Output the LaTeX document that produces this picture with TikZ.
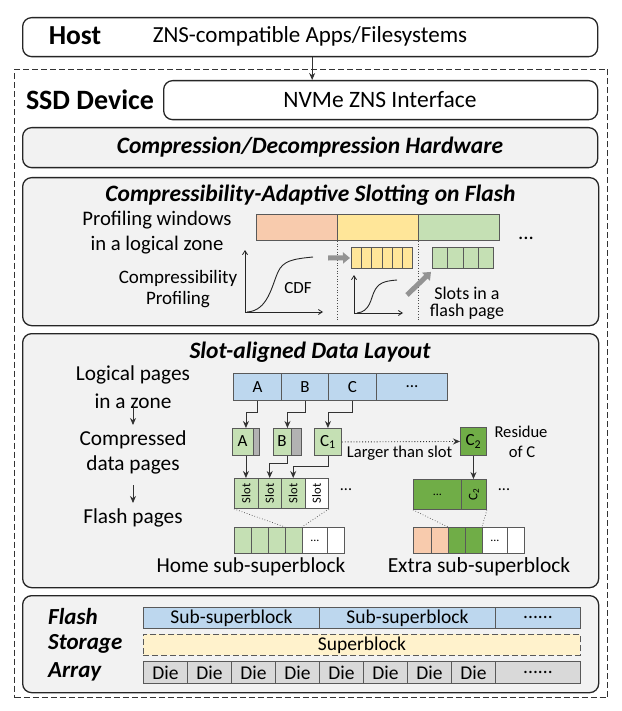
\documentclass[tikz,border=0pt]{standalone}
\usepackage{fontspec}
\setmainfont{Carlito}
\usetikzlibrary{arrows.meta}
\definecolor{peach}{HTML}{F8CBAD}
\definecolor{yel}{HTML}{FFE699}
\definecolor{lgreen}{HTML}{C5E0B4}
\definecolor{dgreen}{HTML}{70AD47}
\definecolor{lblue}{HTML}{BDD7EE}
\definecolor{dieg}{HTML}{D9D9D9}
\definecolor{sbfill}{HTML}{FFF2CC}
\definecolor{panelfill}{HTML}{F2F2F2}
\definecolor{edge}{HTML}{595959}
\newcommand\fsz[1]{\fontsize{#1}{#1}\selectfont}
\begin{document}
\begin{tikzpicture}[x=1pt,y=-1pt,
  panel/.style={draw=black!85, line width=1.3pt, rounded corners=9pt, fill=panelfill, inner sep=0pt, anchor=north west},
  cell/.style={draw=edge, line width=0.9pt, inner sep=0pt, anchor=north west, font=\fsz{17}},
  conn/.style={draw=black!80, line width=0.9pt, -{Stealth[length=7pt,width=6pt]}},
  dotconn/.style={draw=black!80, line width=0.9pt, dotted, -{Stealth[length=7pt,width=6pt]}},
  bigarrow/.style={draw=gray!85, line width=5pt, -{Triangle[length=7pt,width=11pt]}},
  axis/.style={draw=black!85, line width=0.8pt, -{Straight Barb[length=4pt,width=5pt]}},
  curve/.style={draw=black!85, line width=0.9pt},
  guide/.style={draw=black!70, line width=0.7pt, dotted},
  txt/.style={inner sep=1pt},
  ttl/.style={inner sep=1pt, font=\bfseries\itshape\fsz{23.5}},
  sttl/.style={inner sep=1pt, font=\bfseries\itshape\fsz{23}},
  bodytxt/.style={inner sep=1pt, font=\fsz{21}},
  bar/.style={cell, font=\fsz{19.5}},
]
\useasboundingbox (0,0) rectangle (621,711);
\fill[white] (0,0) rectangle (621,711);

% Host
\node[panel, fill=white, minimum width=575pt, minimum height=39pt] (host) at (22,17) {};
\node[txt, font=\bfseries\fsz{27.5}] (hostlbl) at (75,36) {Host};
\node[txt, font=\fsz{23}] (apps) at (310,36) {ZNS-compatible Apps/Filesystems};

% SSD device
\node[draw=black!80, line width=1pt, dash pattern=on 6pt off 3pt, minimum width=593pt, minimum height=628pt, anchor=north west, inner sep=0pt] (ssd) at (14,69) {};
\node[txt, font=\bfseries\fsz{28}] (ssdlbl) at (90,100) {SSD Device};
\node[panel, fill=white, minimum width=434pt, minimum height=39pt] (nvme) at (163,80) {};
\node[txt, font=\fsz{23.5}] (nvmelbl) at (380,100) {NVMe ZNS Interface};
\draw[conn] ([xshift=2pt]host.south) -- ([xshift=2pt]host.south |- nvme.north);

% Compression
\node[panel, minimum width=575pt, minimum height=40pt] (comp) at (22,127) {};
\node[ttl] (complbl) at (310,147) {Compression/Decompression Hardware};

% Slotting panel
\node[panel, minimum width=576pt, minimum height=148pt] (slotp) at (22,177) {};
\node[ttl] (slotttl) at (310.5,195) {Compressibility-Adaptive Slotting on Flash};
\node[bodytxt, font=\fsz{20.7}] (pw1) at (157,220) {Profiling windows};
\node[bodytxt, font=\fsz{20.7}] (pw2) at (157,245) {in a logical zone};
\node[txt, font=\fsz{19}] (cp1) at (178,278) {Compressibility};
\node[txt, font=\fsz{19}] (cp2) at (178,300) {Profiling};

\node[cell, fill=peach, minimum width=81pt, minimum height=26pt] (wp) at (256,214) {};
\node[cell, fill=yel, minimum width=81pt, minimum height=26pt] (wy) at (337,214) {};
\node[cell, fill=lgreen, minimum width=81pt, minimum height=26pt] (wg) at (418,214) {};
\node[txt, font=\fsz{21}] (wdots) at (526,238) {...};
\draw[guide] (wy.south west) -- ++(0,80);
\draw[guide] (wg.south west) -- ++(0,80);

\foreach \i in {0,...,5}
  \node[cell, fill=yel, minimum width=10.17pt, minimum height=21pt] (ys\i) at ({351+\i*10.17},247) {};
\foreach \i in {0,...,3}
  \node[cell, fill=lgreen, minimum width=15.25pt, minimum height=21pt] (gs\i) at ({432+\i*15.25},247) {};

% big CDF
\coordinate (o1) at (245,312);
\draw[axis] (o1) -- (245,250);
\draw[axis] (o1) -- (323,312);
\draw[curve] (247,312) .. controls (268,311) and (272,285) .. (278,272) .. controls (283,261) and (292,259) .. (313,257);
\node[txt, font=\fsz{17}] (cdf) at (298,288) {CDF};
% small CDF
\coordinate (o2) at (354,313);
\draw[axis] (o2) -- (354,275);
\draw[axis] (o2) -- (403,313);
\draw[curve] (357,313) .. controls (370,312) and (371,298) .. (374,292) .. controls (378,283) and (384,281) .. (397,280);

\coordinate (ba1) at (328,258);
\draw[bigarrow, shorten >=1pt] (ba1) -- (ys0.west);
\coordinate (ba2) at (407,295);
\draw[bigarrow] (ba2) -- ([shift={(-1,3)}]gs0.south west);
\node[txt, font=\fsz{18}] (sl1) at (467,293) {Slots in a};
\node[txt, font=\fsz{18}] (sl2) at (467,312) {flash page};

% Slot-aligned panel
\node[panel, minimum width=576pt, minimum height=254pt] (layp) at (22,333) {};
\node[ttl] (layttl) at (310,352) {Slot-aligned Data Layout};
\node[bodytxt, font=\fsz{21.3}] (lp1) at (133,375) {Logical pages};
\node[bodytxt, font=\fsz{21.3}] (lp2) at (133,401) {in a zone};
\node[bodytxt, font=\fsz{21.3}] (cd1) at (133,440) {Compressed};
\node[bodytxt, font=\fsz{21.3}] (cd2) at (133,465) {data pages};
\node[bodytxt, font=\fsz{21.3}] (fp) at (133,518) {Flash pages};
\draw[conn] ([yshift=-4pt]lp2.center) -- ([yshift=15pt]cd1.center);
\draw[conn] ([yshift=-20pt]cd2.center) -- ([yshift=15pt]fp.center);

\node[cell, fill=lblue, minimum width=48pt, minimum height=27pt] (LA) at (233,373) {A};
\node[cell, fill=lblue, minimum width=47pt, minimum height=27pt] (LB) at (281,373) {B};
\node[cell, fill=lblue, minimum width=48pt, minimum height=27pt] (LC) at (328,373) {C};
\node[cell, fill=lblue, minimum width=71pt, minimum height=27pt] (LD) at (376,373) {...};

\node[cell, fill=lgreen, minimum width=27pt, minimum height=27pt] (CA) at (232,428) {};
\draw[draw=edge, line width=0.9pt, fill=gray!60] ([xshift=-6pt]CA.north east) rectangle (CA.south east);
\node[txt, font=\fsz{17}] (CAt) at (242.5,441.5) {A};
\node[cell, fill=lgreen, minimum width=28pt, minimum height=27pt] (CB) at (273,428) {};
\draw[draw=edge, line width=0.9pt, fill=gray!60] ([xshift=-10pt]CB.north east) rectangle (CB.south east);
\node[txt, font=\fsz{17}] (CBt) at (282,441.5) {B};
\node[cell, fill=lgreen, minimum width=27pt, minimum height=27pt] (CC) at (314,428) {C\textsubscript{1}};

\draw[conn] (LA.south) -- ++(0,12) -| (CA.north);
\draw[conn] (LB.south) -- ++(0,12) -| (CB.north);
\draw[conn] (LC.south) -- ++(0,12) -| (CC.north);

\foreach \i/\c in {1/lgreen,2/lgreen,3/lgreen,4/white}
  \node[cell, fill=\c, minimum width=23.5pt, minimum height=30pt] (S\i) at ({234+(\i-1)*23.5},478) {};
\foreach \i in {1,...,4}
  \node[txt, rotate=90, font=\fsz{12.5}] at (S\i.center) {Slot};
\node[txt, font=\fsz{16}] (sdots) at (346,490) {...};

\draw[conn] (CA.south) -- (CA.south |- S1.north);
\draw[conn] (CB.south) -- ++(0,8) -| (S2.north);
\draw[conn] (CC.south) -- ++(0,11) -| (S3.north);

\node[cell, fill=lgreen, minimum width=17pt, minimum height=26pt] (F1) at (234,527) {};
\node[cell, fill=lgreen, minimum width=17pt, minimum height=26pt] (F2) at (251,527) {};
\node[cell, fill=lgreen, minimum width=17pt, minimum height=26pt] (F3) at (268,527) {};
\node[cell, fill=lgreen, minimum width=17pt, minimum height=26pt] (F4) at (285,527) {};
\node[cell, fill=white, minimum width=25pt, minimum height=26pt, font=\fsz{12}] (F5) at (302,527) {...};
\node[cell, fill=white, minimum width=17pt, minimum height=26pt] (F6) at (327,527) {};
\draw[guide] (S1.south west) -- (F4.north west);
\draw[guide] (S4.south east) -- (F5.north west);
\node[bodytxt, font=\fsz{21.3}] (home) at (251,567) {Home sub-superblock};

\node[cell, fill=dgreen, minimum width=26pt, minimum height=28pt] (C2) at (460,427) {C\textsubscript{2}};
\draw[dotconn] (CC.east) -- (C2.west);
\node[txt, font=\fsz{16.6}] (larger) at (399.5,453) {Larger than slot};
\node[txt, font=\fsz{16.6}] (res1) at (521,432) {Residue};
\node[txt, font=\fsz{16.6}] (res2) at (522,452) {of C};

\node[cell, fill=dgreen, minimum width=48pt, minimum height=30pt, font=\fsz{12}] (E1) at (413,479) {...};
\node[cell, fill=dgreen, minimum width=25pt, minimum height=30pt] (E2) at (461,479) {};
\node[txt, rotate=90, font=\fsz{13}] at (E2.center) {C\textsubscript{2}};
\node[txt, font=\fsz{16}] (edots) at (504,490) {...};
\draw[conn] (C2.south) -- (C2.south |- E2.north);

\node[cell, fill=peach, minimum width=18pt, minimum height=26pt] (X1) at (413,527) {};
\node[cell, fill=peach, minimum width=17pt, minimum height=26pt] (X2) at (431,527) {};
\node[cell, fill=dgreen, minimum width=17pt, minimum height=26pt] (X3) at (448,527) {};
\node[cell, fill=dgreen, minimum width=17pt, minimum height=26pt] (X4) at (465,527) {};
\node[cell, fill=white, minimum width=25pt, minimum height=26pt, font=\fsz{12}] (X5) at (482,527) {...};
\node[cell, fill=white, minimum width=17pt, minimum height=26pt] (X6) at (507,527) {};
\draw[guide] (E1.south west) -- (X3.north west);
\draw[guide] (E2.south east) -- (X5.north west);
\node[bodytxt, font=\fsz{21.5}] (extra) at (479,567) {Extra sub-superblock};

% Flash storage array
\node[panel, minimum width=576pt, minimum height=97pt] (fsa) at (22,595) {};
\node[sttl, anchor=west] (fl1) at (47,617) {Flash};
\node[sttl, anchor=west] (fl2) at (47,644) {Storage};
\node[sttl, anchor=west] (fl3) at (47,672) {Array};
\node[bar, fill=lblue, minimum width=176pt, minimum height=21pt] (SB1) at (143,607) {Sub-superblock};
\node[bar, fill=lblue, minimum width=176pt, minimum height=21pt] (SB2) at (319,607) {Sub-superblock};
\node[bar, fill=lblue, minimum width=85pt, minimum height=21pt] (SB3) at (495,607) {......};
\node[bar, fill=sbfill, dash pattern=on 6pt off 3pt, minimum width=437pt, minimum height=21pt] (SUP) at (143,634) {Superblock};
\foreach \i in {1,...,8}
  \node[bar, fill=dieg, minimum width=44pt, minimum height=22pt] (D\i) at ({143+(\i-1)*44},661) {Die};
\node[bar, fill=dieg, minimum width=85pt, minimum height=22pt] (D9) at (495,661) {......};
\end{tikzpicture}
\end{document}
